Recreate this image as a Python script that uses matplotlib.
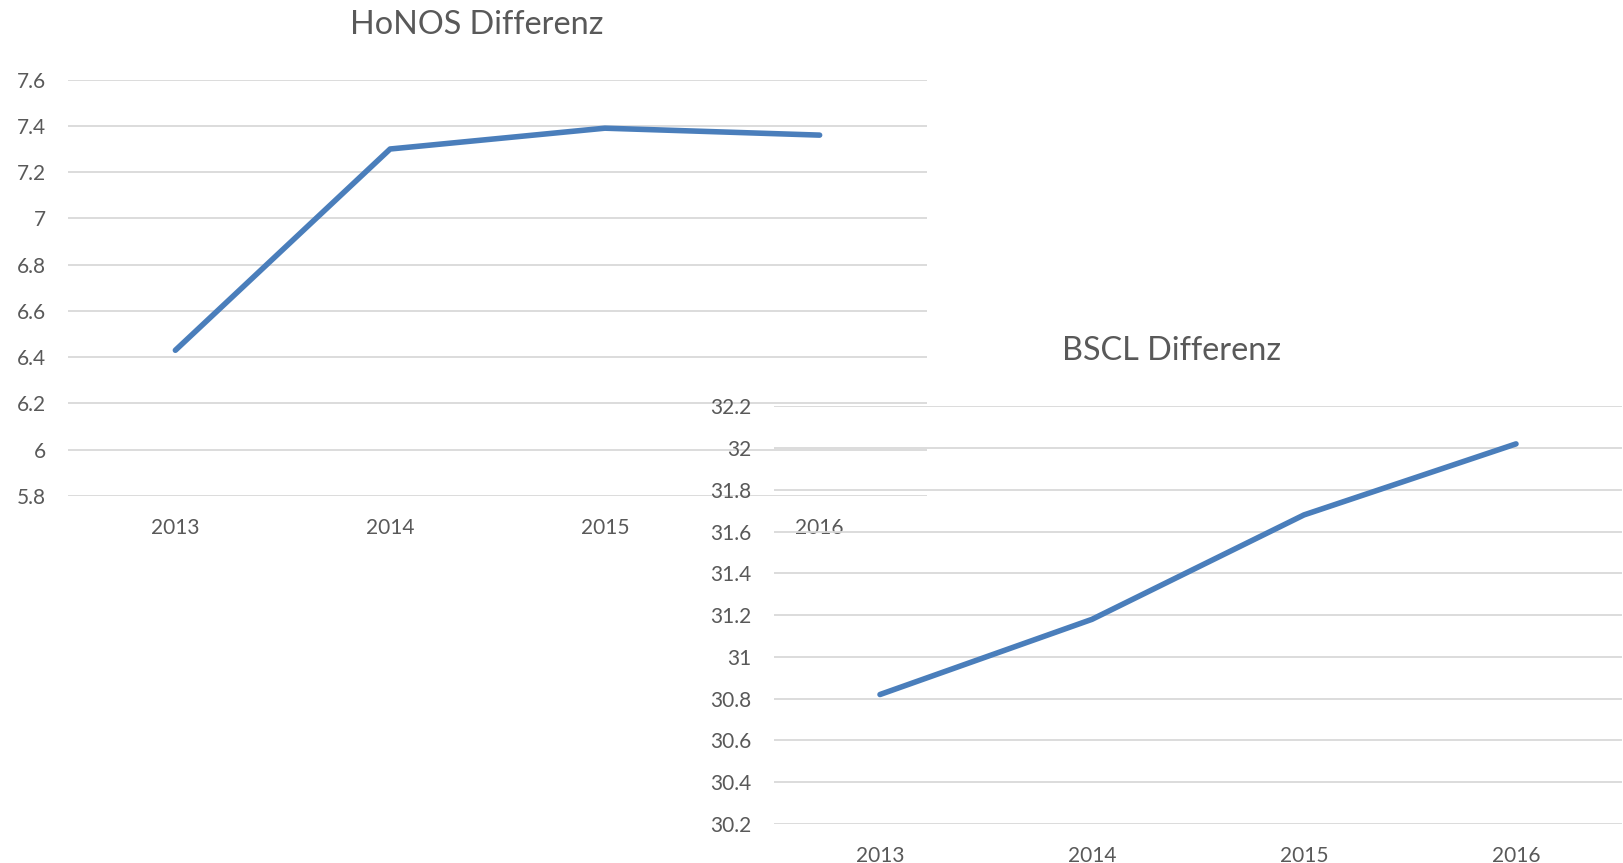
import matplotlib
matplotlib.use("Agg")
import matplotlib.pyplot as plt

years = ["2013", "2014", "2015", "2016"]
honos = [6.43, 7.30, 7.39, 7.36]
bscl = [30.82, 31.18, 31.68, 32.02]
honos_ticks = [5.8, 6.0, 6.2, 6.4, 6.6, 6.8, 7.0, 7.2, 7.4, 7.6]
bscl_ticks = [30.2, 30.4, 30.6, 30.8, 31.0, 31.2, 31.4, 31.6, 31.8, 32.0, 32.2]

plt.rcParams["font.family"] = ["Lato", "DejaVu Sans"]
LINE = "#4a7ebb"
GRID = "#d9d9d9"
TXT = "#595959"
W, H = 1623, 863


def fmt(v):
    return f"{v:g}"


def setup(ax, values, ticks):
    x = range(len(years))
    ax.plot(list(x), values, color=LINE, lw=4, solid_capstyle="round", zorder=3)
    ax.set_xlim(-0.5, len(years) - 0.5)
    ax.set_ylim(ticks[0], ticks[-1])
    ax.set_yticks(ticks)
    ax.set_yticklabels([fmt(t) for t in ticks])
    ax.set_xticks(list(x))
    ax.set_xticklabels(years)
    ax.grid(axis="y", color=GRID, lw=1.3)
    ax.set_axisbelow(True)
    for s in ax.spines.values():
        s.set_visible(False)
    ax.tick_params(length=0, labelsize=15, labelcolor=TXT)
    ax.tick_params(axis="y", pad=16)
    ax.tick_params(axis="x", pad=16)
    ax.patch.set_alpha(0)


fig = plt.figure(figsize=(W / 100, H / 100), dpi=100)

ax1 = fig.add_axes([68 / W, 1 - 496 / H, 859 / W, (496 - 79.6) / H])
setup(ax1, honos, honos_ticks)

ax2 = fig.add_axes([774 / W, 1 - 824 / H, 848 / W, (824 - 406.3) / H])
setup(ax2, bscl, bscl_ticks)

fig.text(477 / W, 1 - 25 / H, "HoNOS Differenz", ha="center", va="center",
         fontsize=23.3, color=TXT)
fig.text(1171 / W, 1 - 351 / H, "BSCL Differenz", ha="center", va="center",
         fontsize=23.3, color=TXT)

fig.savefig("out.png", dpi=100, facecolor="white")
